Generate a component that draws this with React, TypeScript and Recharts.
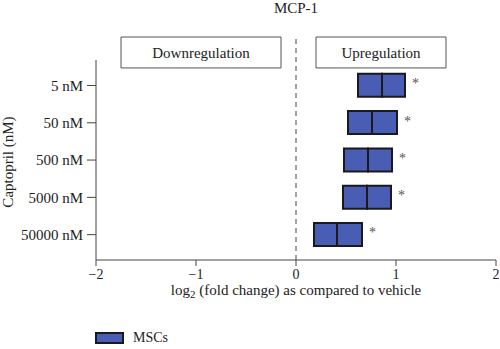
import React from 'react';
import {
  BarChart,
  Bar,
  XAxis,
  YAxis,
  ReferenceLine,
  ReferenceArea,
  LabelList,
  Legend,
} from 'recharts';

// ---- data ----
const categories = ['5 nM', '50 nM', '500 nM', '5000 nM', '50000 nM'];
const positions = [1, 2, 3, 4, 5];
const lowerQ = [0.62, 0.52, 0.48, 0.47, 0.18];
const medians = [0.86, 0.76, 0.72, 0.71, 0.41];
const upperQ = [1.09, 1.01, 0.96, 0.95, 0.66];
const xTicks = [-2, -1, 0, 1, 2];
const seriesName = 'MSCs';
const titleText = 'MCP-1';
const xLabel = ['log', '2', ' (fold change) as compared to vehicle'];
const yLabel = 'Captopril (nM)';
const downLabel = 'Downregulation';
const upLabel = 'Upregulation';

const data = categories.map((c, i) => ({
  name: c,
  pos: positions[i],
  base: lowerQ[i],
  lowerHalf: medians[i] - lowerQ[i],
  upperHalf: upperQ[i] - medians[i],
}));

const FONT = '"Liberation Serif", "DejaVu Serif", serif';
const BOX_FILL = '#4a5db4';
const BOX_STROKE = '#1a1a1a';
const AXIS = '#444';
const TEXT = '#222';

const fmtX = (v: number) => (v < 0 ? '\u2212' + Math.abs(v) : String(v));
const fmtY = (v: number) => categories[positions.indexOf(v)] ?? '';

const Star = (props: any) => {
  const { x, y, width, height } = props;
  return (
    <text
      x={x + width + 7}
      y={y + height / 2 + 3}
      fontSize={14}
      fill="#555"
      fontFamily={FONT}
    >
      *
    </text>
  );
};

const XLabel = (props: any) => {
  const vb = props.viewBox || {};
  const cx = vb.x + vb.width / 2;
  const y = vb.y + 34.5;
  return (
    <text x={cx} y={y} textAnchor="middle" fontSize={15} fill={TEXT} fontFamily={FONT}>
      {xLabel[0]}
      <tspan fontSize={11} dy={3}>
        {xLabel[1]}
      </tspan>
      <tspan dy={-3}>{xLabel[2]}</tspan>
    </text>
  );
};

const YLabel = () => {
  const x = 13;
  const y = 162;
  return (
    <text
      x={x}
      y={y}
      transform={`rotate(-90 ${x} ${y})`}
      textAnchor="middle"
      fontSize={15}
      fill={TEXT}
      fontFamily={FONT}
    >
      {yLabel}
    </text>
  );
};

const LegendContent = (props: any) => {
  const items = (props.payload || []).filter((p: any) => p.type !== 'none');
  return (
    <div
      style={{
        display: 'flex',
        alignItems: 'center',
        paddingLeft: 95,
        height: 20,
        fontFamily: FONT,
        fontSize: 14,
        color: TEXT,
      }}
    >
      {items.map((it: any) => (
        <div key={it.value} style={{ display: 'flex', alignItems: 'center' }}>
          <span
            style={{
              display: 'inline-block',
              width: 25,
              height: 8,
              background: BOX_FILL,
              border: `2px solid ${BOX_STROKE}`,
              marginRight: 9,
            }}
          />
          <span>{it.value}</span>
        </div>
      ))}
    </div>
  );
};

export default function App() {
  return (
    <div style={{ position: 'absolute', left: 0, top: 0, background: '#fff' }}>
      <BarChart
        width={500}
        height={349}
        data={data}
        layout="vertical"
        barSize={23}
        margin={{ top: 37, right: 4, bottom: 1, left: 0 }}
        style={{ fontFamily: FONT }}
      >
        <XAxis
          type="number"
          domain={[-2, 2]}
          ticks={xTicks}
          tickFormatter={fmtX}
          stroke={AXIS}
          tickSize={6}
          tickMargin={3}
          height={68}
          tick={{ fill: TEXT, fontSize: 14, fontFamily: FONT }}
          label={<XLabel />}
          allowDataOverflow
        />
        <YAxis
          type="number"
          dataKey="pos"
          domain={[-0.3, 5.68]}
          ticks={positions}
          tickFormatter={fmtY}
          axisLine={false}
          stroke={AXIS}
          tickSize={9}
          tickMargin={4}
          width={96}
          tick={{ fill: TEXT, fontSize: 15, fontFamily: FONT }}
          label={<YLabel />}
          allowDataOverflow
          interval={0}
        />
        <ReferenceArea
          x1={-1.75}
          x2={-0.15}
          y1={-0.3}
          y2={0.53}
          fill="#fff"
          fillOpacity={1}
          stroke="#555"
          strokeWidth={1}
          label={{ value: downLabel, position: 'center', fill: TEXT, fontSize: 15, fontFamily: FONT }}
          ifOverflow="visible"
        />
        <ReferenceArea
          x1={0.2}
          x2={1.5}
          y1={-0.3}
          y2={0.53}
          fill="#fff"
          fillOpacity={1}
          stroke="#555"
          strokeWidth={1}
          label={{ value: upLabel, position: 'center', fill: TEXT, fontSize: 15, fontFamily: FONT }}
          ifOverflow="visible"
        />
        <ReferenceLine
          x={0}
          stroke={AXIS}
          strokeDasharray="5 4"
          label={{ value: titleText, position: 'top', offset: 24, fill: TEXT, fontSize: 15, fontFamily: FONT }}
        />
        <ReferenceLine
          segment={[
            { x: -2, y: 0.317 },
            { x: -2, y: 5.68 },
          ]}
          stroke={AXIS}
          ifOverflow="visible"
        />
        <Bar
          dataKey="base"
          stackId="a"
          fill="transparent"
          stroke="none"
          legendType="none"
          isAnimationActive={false}
        />
        <Bar
          dataKey="lowerHalf"
          stackId="a"
          fill={BOX_FILL}
          stroke={BOX_STROKE}
          strokeWidth={2}
          legendType="none"
          isAnimationActive={false}
        />
        <Bar
          dataKey="upperHalf"
          name={seriesName}
          stackId="a"
          fill={BOX_FILL}
          stroke={BOX_STROKE}
          strokeWidth={2}
          isAnimationActive={false}
        >
          <LabelList dataKey="upperHalf" content={<Star />} />
        </Bar>
        <Legend verticalAlign="bottom" align="left" content={<LegendContent />} />
      </BarChart>
    </div>
  );
}
